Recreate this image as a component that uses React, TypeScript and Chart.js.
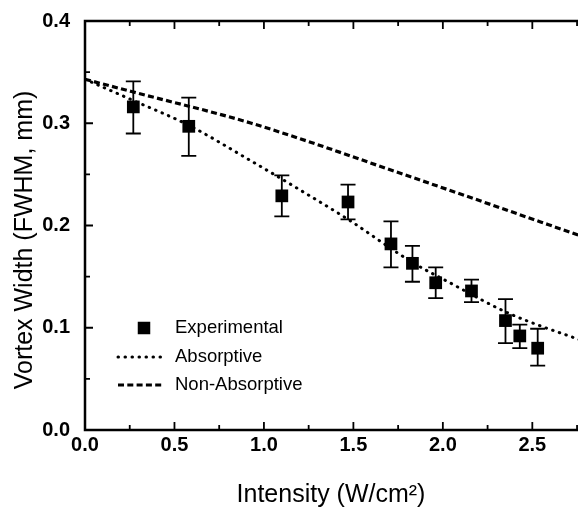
import React, { useEffect, useRef } from "react";
import { Chart, registerables } from "chart.js";

Chart.register(...registerables);

// ---- Data ----
const expX = [0.27, 0.58, 1.1, 1.47, 1.71, 1.83, 1.96, 2.16, 2.35, 2.43, 2.53];
const expY = [0.316, 0.297, 0.229, 0.223, 0.182, 0.163, 0.144, 0.136, 0.107, 0.092, 0.08];
const expErrHigh = [0.341, 0.325, 0.249, 0.24, 0.204, 0.18, 0.159, 0.147, 0.128, 0.103, 0.099];
const expErrLow = [0.29, 0.268, 0.209, 0.206, 0.159, 0.145, 0.129, 0.125, 0.085, 0.08, 0.063];

const absX = [0, 0.26, 0.58, 0.92, 1.19, 1.47, 1.82, 2.05, 2.37, 2.8];
const absY = [0.343, 0.323, 0.298, 0.264, 0.236, 0.206, 0.165, 0.143, 0.114, 0.086];

const nonAbsX = [0, 0.26, 0.93, 1.83, 2.8];
const nonAbsY = [0.343, 0.331, 0.3, 0.247, 0.188];

const xMin = 0;
const xMax = 2.8;
const xStep = 0.5;
const xMinorStep = 0.25;
const yMin = 0;
const yMax = 0.4;
const yStep = 0.1;
const yMinorStep = 0.05;

const seriesNames = ["Experimental", "Absorptive", "Non-Absorptive"];
const xTitle = "Intensity (W/cm\u00B2)";
const yTitle = "Vortex Width (FWHM, mm)";

const FONT = "'Liberation Sans', Arial, Helvetica, sans-serif";

const framePlugin = {
  id: "frameTicks",
  afterDraw(chart: any) {
    const { ctx, chartArea } = chart;
    const { left, right, top, bottom } = chartArea;
    const xs = chart.scales.x;
    const ys = chart.scales.y;
    ctx.save();
    ctx.strokeStyle = "#000";
    ctx.lineWidth = 2.5;
    ctx.strokeRect(left, top, right - left, bottom - top);
    ctx.lineWidth = 1.8;
    ctx.beginPath();
    const nx = Math.round((xMax - xMin) / xMinorStep);
    for (let i = 0; i <= nx; i++) {
      const v = xMin + i * xMinorStep;
      const px = xs.getPixelForValue(v);
      const major = i % Math.round(xStep / xMinorStep) === 0;
      const len = major ? 8 : 5;
      ctx.moveTo(px, bottom);
      ctx.lineTo(px, bottom - len);
      ctx.moveTo(px, top);
      ctx.lineTo(px, top + len);
    }
    const ny = Math.round((yMax - yMin) / yMinorStep);
    for (let i = 0; i <= ny; i++) {
      const v = yMin + i * yMinorStep;
      const py = ys.getPixelForValue(v);
      const major = i % Math.round(yStep / yMinorStep) === 0;
      const len = major ? 8 : 5;
      ctx.moveTo(left, py);
      ctx.lineTo(left + len, py);
      ctx.moveTo(right, py);
      ctx.lineTo(right - len, py);
    }
    ctx.stroke();
    ctx.restore();
  },
};

const errorBarPlugin = {
  id: "errorBars",
  afterDatasetsDraw(chart: any) {
    const { ctx } = chart;
    const xs = chart.scales.x;
    const ys = chart.scales.y;
    ctx.save();
    ctx.strokeStyle = "#000";
    ctx.lineWidth = 1.8;
    const cap = 7.5;
    ctx.beginPath();
    for (let i = 0; i < expX.length; i++) {
      const px = xs.getPixelForValue(expX[i]);
      const pHi = ys.getPixelForValue(expErrHigh[i]);
      const pLo = ys.getPixelForValue(expErrLow[i]);
      ctx.moveTo(px, pHi);
      ctx.lineTo(px, pLo);
      ctx.moveTo(px - cap, pHi);
      ctx.lineTo(px + cap, pHi);
      ctx.moveTo(px - cap, pLo);
      ctx.lineTo(px + cap, pLo);
    }
    ctx.stroke();
    ctx.restore();
  },
};

const legendTitlePlugin = {
  id: "legendTitles",
  afterDraw(chart: any) {
    const { ctx } = chart;
    const ds = chart.data.datasets;
    ctx.save();
    ctx.fillStyle = "#000";
    ctx.strokeStyle = "#000";
    ctx.font = `18.5px ${FONT}`;
    ctx.textBaseline = "middle";
    ctx.textAlign = "left";
    const textX = 175;
    const rows = [328, 357, 385];
    const side = 12.5;
    ctx.fillRect(144 - side / 2, rows[0] - side / 2, side, side);
    ctx.fillText(ds[0].label, textX, rows[0]);
    for (let k = 1; k <= 2; k++) {
      const d = ds[k];
      ctx.save();
      ctx.lineWidth = d.borderWidth;
      ctx.setLineDash(d.borderDash);
      ctx.lineCap = d.borderCapStyle;
      ctx.beginPath();
      ctx.moveTo(118, rows[k]);
      ctx.lineTo(164, rows[k]);
      ctx.stroke();
      ctx.restore();
      ctx.fillText(d.label, textX, rows[k]);
    }
    // axis titles
    ctx.font = `25px ${FONT}`;
    ctx.textAlign = "center";
    ctx.textBaseline = "middle";
    ctx.fillText(xTitle, 331, 495);
    ctx.save();
    ctx.translate(25, 240);
    ctx.rotate(-Math.PI / 2);
    ctx.fillText(yTitle, 0, 0);
    ctx.restore();
    ctx.restore();
  },
};

export default function App() {
  const canvasRef = useRef<HTMLCanvasElement | null>(null);

  useEffect(() => {
    const canvas = canvasRef.current;
    if (!canvas) return;
    const chart = new Chart(canvas, {
      type: "scatter",
      data: {
        datasets: [
          {
            label: seriesNames[0],
            data: expX.map((x, i) => ({ x, y: expY[i] })),
            showLine: false,
            pointStyle: "rect",
            pointRadius: 9,
            backgroundColor: "#000",
            borderColor: "#000",
            borderWidth: 0,
            order: 0,
          },
          {
            label: seriesNames[1],
            data: absX.map((x, i) => ({ x, y: absY[i] })),
            showLine: true,
            pointRadius: 0,
            borderColor: "#000",
            borderWidth: 3,
            borderDash: [0.5, 6.5],
            borderCapStyle: "round",
            cubicInterpolationMode: "monotone",
            fill: false,
            order: 1,
          },
          {
            label: seriesNames[2],
            data: nonAbsX.map((x, i) => ({ x, y: nonAbsY[i] })),
            showLine: true,
            pointRadius: 0,
            borderColor: "#000",
            borderWidth: 3.2,
            borderDash: [6, 3.3],
            borderCapStyle: "butt",
            cubicInterpolationMode: "monotone",
            fill: false,
            order: 2,
          },
        ],
      } as any,
      options: {
        animation: false,
        responsive: false,
        devicePixelRatio: 1,
        layout: { padding: { left: 0, right: 14, top: 21, bottom: 0 } },
        plugins: { legend: { display: false }, tooltip: { enabled: false } },
        scales: {
          x: {
            type: "linear",
            min: xMin,
            max: xMax,
            grid: { display: false },
            border: { display: false },
            afterFit: (s: any) => {
              s.height = 78;
            },
            afterBuildTicks: (s: any) => {
              const t = [];
              for (let v = xMin; v <= xMax + 1e-9; v += xStep) t.push({ value: +v.toFixed(3) });
              s.ticks = t;
            },
            ticks: {
              padding: -5,
              color: "#000",
              font: { family: FONT, size: 20, weight: "bold" },
              maxRotation: 0,
              callback: (v: any) => Number(v).toFixed(1),
            },
          },
          y: {
            type: "linear",
            min: yMin,
            max: yMax,
            grid: { display: false },
            border: { display: false },
            afterFit: (s: any) => {
              s.width = 85;
            },
            afterBuildTicks: (s: any) => {
              const t = [];
              for (let v = yMin; v <= yMax + 1e-9; v += yStep) t.push({ value: +v.toFixed(3) });
              s.ticks = t;
            },
            ticks: {
              padding: 7,
              color: "#000",
              font: { family: FONT, size: 20, weight: "bold" },
              callback: (v: any) => Number(v).toFixed(1),
            },
          },
        },
      } as any,
      plugins: [errorBarPlugin, framePlugin, legendTitlePlugin],
    });
    return () => chart.destroy();
  }, []);

  return (
    <div
      style={{
        position: "fixed",
        left: 0,
        top: 0,
        width: 578,
        height: 508,
        overflow: "hidden",
        background: "#fff",
      }}
    >
      <canvas
        ref={canvasRef}
        width={600}
        height={508}
        style={{ width: 600, height: 508, display: "block" }}
      />
    </div>
  );
}
